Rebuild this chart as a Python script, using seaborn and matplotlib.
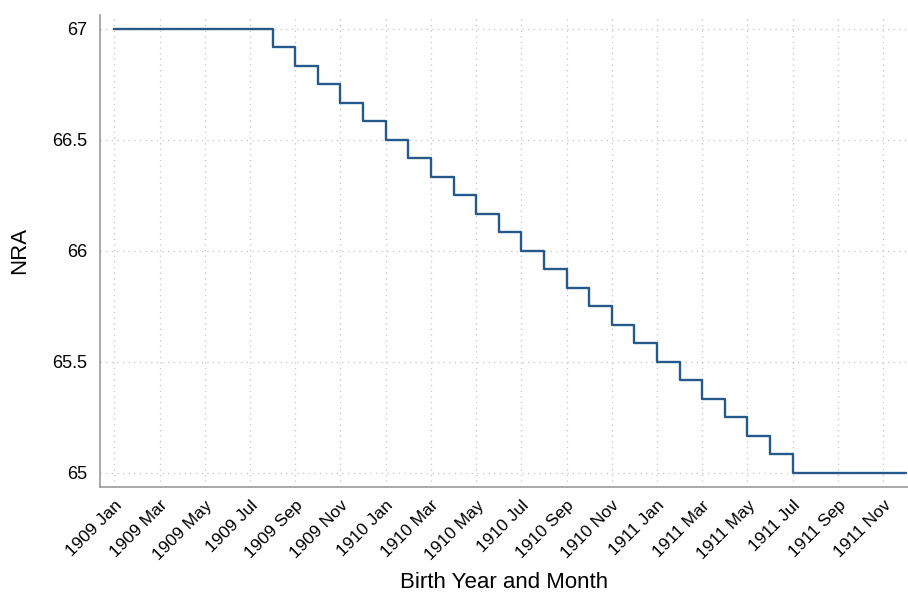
import numpy as np
import pandas as pd
import matplotlib
matplotlib.use("Agg")
import matplotlib.pyplot as plt
import seaborn as sns

# 出生年月与对应的正常退休年龄 (NRA)
months = [
    "1909 Jan", "1909 Feb", "1909 Mar", "1909 Apr", "1909 May", "1909 Jun",
    "1909 Jul", "1909 Aug", "1909 Sep", "1909 Oct", "1909 Nov", "1909 Dec",
    "1910 Jan", "1910 Feb", "1910 Mar", "1910 Apr", "1910 May", "1910 Jun",
    "1910 Jul", "1910 Aug", "1910 Sep", "1910 Oct", "1910 Nov", "1910 Dec",
    "1911 Jan", "1911 Feb", "1911 Mar", "1911 Apr", "1911 May", "1911 Jun",
    "1911 Jul", "1911 Aug", "1911 Sep", "1911 Oct", "1911 Nov", "1911 Dec",
]
nra = [
    67.0, 67.0, 67.0, 67.0, 67.0, 67.0,
    67.0, 66.917, 66.833, 66.75, 66.667, 66.583,
    66.5, 66.417, 66.333, 66.25, 66.167, 66.083,
    66.0, 65.917, 65.833, 65.75, 65.667, 65.583,
    65.5, 65.417, 65.333, 65.25, 65.167, 65.083,
    65.0, 65.0, 65.0, 65.0, 65.0, 65.0,
]
y_ticks = [65, 65.5, 66, 66.5, 67]
y_tick_labels = ["65", "65.5", "66", "66.5", "67"]

df = pd.DataFrame({"idx": range(len(months)), "month": months, "NRA": nra})

sns.set_style("white")
plt.rcParams["font.family"] = ["Liberation Sans", "DejaVu Sans"]

fig = plt.figure(figsize=(9.08, 5.95), dpi=100)
ax = fig.add_axes([0.110, 0.182, 0.890, 0.793])

sns.lineplot(data=df, x="idx", y="NRA", ax=ax, color="#25598c",
             linewidth=1.7, drawstyle="steps-post")

# 坐标轴范围和刻度
ax.set_xlim(-0.64, 35.1)
ax.set_ylim(64.937, 67.062)
tick_pos = df["idx"][::2]
ax.set_xticks(tick_pos)
ax.set_xticklabels(df["month"][::2], rotation=45, ha="right",
                   rotation_mode="anchor", fontsize=12.5, color="black")
ax.set_yticks(y_ticks)
ax.set_yticklabels(y_tick_labels, fontsize=13, color="black")

ax.grid(True, color="#c4c4c4", linestyle=(0, (1, 3.5)), linewidth=0.9)

sns.despine(ax=ax, top=True, right=True)
for side in ["left", "bottom"]:
    ax.spines[side].set_color("#999999")
    ax.spines[side].set_linewidth(1.2)
ax.tick_params(axis="both", direction="out", length=5, width=1.2,
               color="#999999", labelcolor="black")
ax.tick_params(axis="y", pad=4)
ax.tick_params(axis="x", pad=3)

ax.set_xlabel("Birth Year and Month", fontsize=16, color="black", labelpad=7)
ax.set_ylabel("NRA", fontsize=16, color="black", labelpad=16)

plt.savefig("out.png", dpi=100)
